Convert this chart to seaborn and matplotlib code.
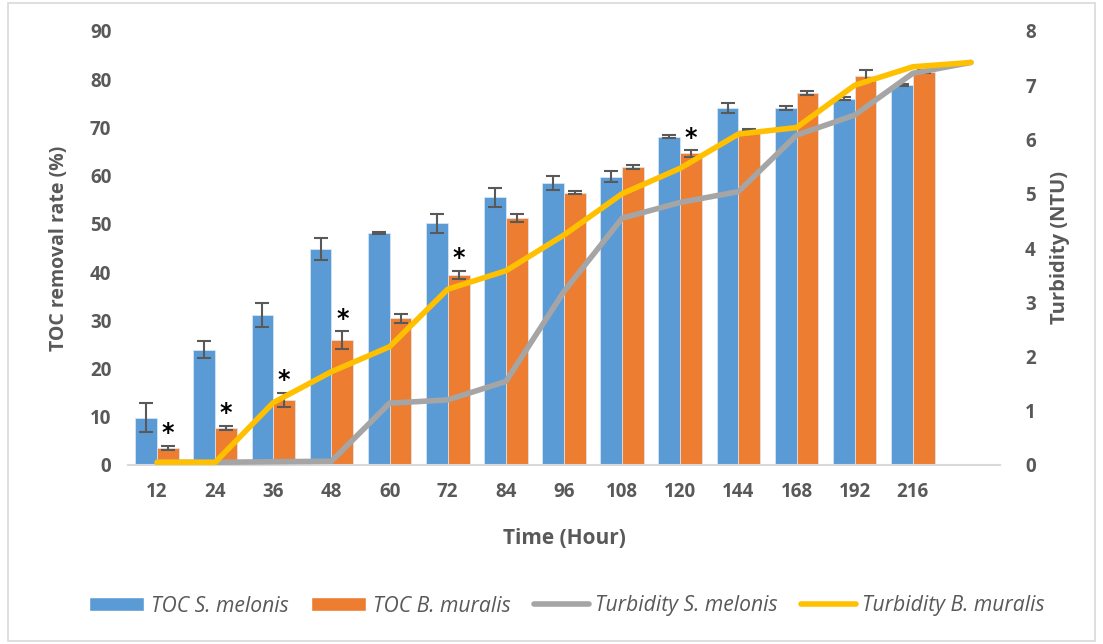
import numpy as np
import pandas as pd
import matplotlib
matplotlib.use("Agg")
import matplotlib.pyplot as plt
import seaborn as sns
from matplotlib.patches import Patch, Rectangle
from matplotlib.lines import Line2D

# ---- data ----
time_labels = ["12", "24", "36", "48", "60", "72", "84", "96", "108", "120", "144", "168", "192", "216"]
toc_melonis = [9.8, 23.9, 31.1, 44.8, 48.1, 50.1, 55.5, 58.5, 59.8, 68.1, 74.0, 74.1, 76.0, 78.8]
toc_melonis_err = [3.0, 1.8, 2.4, 2.3, 0.3, 2.0, 2.0, 1.5, 1.2, 0.3, 1.0, 0.4, 0.3, 0.3]
toc_muralis = [3.6, 7.7, 13.5, 25.9, 30.4, 39.4, 51.2, 56.5, 61.8, 64.6, 69.5, 77.1, 80.7, 81.6]
toc_muralis_err = [0.4, 0.4, 1.5, 1.8, 0.9, 0.9, 0.8, 0.3, 0.5, 0.7, 0.2, 0.4, 1.2, 0.3]
turb_melonis = [0.05, 0.05, 0.06, 0.07, 1.14, 1.20, 1.54, 3.20, 4.55, 4.84, 5.04, 6.08, 6.45, 7.22, 7.42]
turb_muralis = [0.05, 0.05, 1.15, 1.72, 2.18, 3.24, 3.58, 4.24, 5.00, 5.47, 6.10, 6.22, 7.00, 7.34, 7.42]
significant = [True, True, True, True, False, True, False, False, False, True, False, False, False, False]

series_names = ["TOC S. melonis", "TOC B. muralis", "Turbidity S. melonis", "Turbidity B. muralis"]

BLUE, ORANGE, GRAY, YELLOW = "#5B9BD5", "#ED7D31", "#A5A5A5", "#FFC000"
TXT = "#595959"

sns.set_theme(style="white")
plt.rcParams['font.family'] = ['Open Sans', 'DejaVu Sans']

df = pd.DataFrame({
    "time": time_labels * 2,
    "value": toc_melonis + toc_muralis,
    "series": [series_names[0]] * len(time_labels) + [series_names[1]] * len(time_labels),
})

fig = plt.figure(figsize=(11.03, 6.44), dpi=100)
ax = fig.add_axes([128 / 1103, 1 - 465 / 644, (1000 - 128) / 1103, (465 - 31) / 644])

sns.barplot(data=df, x="time", y="value", hue="series", order=time_labels,
            hue_order=series_names[:2], palette=[BLUE, ORANGE], width=0.75,
            errorbar=None, legend=False, ax=ax, saturation=1,
            edgecolor="#DCE9F5", linewidth=0.5)

n = len(time_labels)
patches = ax.patches
blue_p = patches[:n]
orange_p = patches[n:2 * n]
bx = [p.get_x() + p.get_width() / 2 for p in blue_p]
ox = [p.get_x() + p.get_width() / 2 for p in orange_p]
ax.errorbar(bx, toc_melonis, yerr=toc_melonis_err, fmt="none", ecolor=TXT,
            elinewidth=1.5, capsize=4.7, capthick=1.5, zorder=3)
ax.errorbar(ox, toc_muralis, yerr=toc_muralis_err, fmt="none", ecolor=TXT,
            elinewidth=1.5, capsize=4.7, capthick=1.5, zorder=3)
for i, s in enumerate(significant):
    if s:
        ax.annotate("*", (ox[i], toc_muralis[i] + toc_muralis_err[i]), xytext=(0, 9),
                    textcoords="offset points", ha="center", va="center",
                    fontsize=17, fontweight="bold", color="black",
                    family="DejaVu Sans")

ax.set_ylim(0, 90)
ax.set_yticks(np.arange(0, 91, 10))
ax.set_xlim(-0.5, 14.5)
ax.set_xlabel("Time (Hour)", fontsize=15, fontweight="bold", color=TXT, labelpad=19)
ax.set_ylabel("TOC removal rate (%)", fontsize=14, fontweight="bold", color=TXT, labelpad=15)
ax.tick_params(axis="both", length=0, labelsize=13.5, labelcolor=TXT, pad=12)
for lab in ax.get_xticklabels() + ax.get_yticklabels():
    lab.set_fontweight("bold")
for sp in ["left", "right", "top"]:
    ax.spines[sp].set_visible(False)
ax.spines["bottom"].set_color("#D9D9D9")
ax.spines["bottom"].set_linewidth(1.5)

ax2 = ax.twinx()
xs = np.arange(len(turb_melonis))
sns.lineplot(x=xs, y=turb_melonis, color=GRAY, lw=4, ax=ax2, solid_capstyle="round")
sns.lineplot(x=xs, y=turb_muralis, color=YELLOW, lw=4, ax=ax2, solid_capstyle="round")
ax2.set_ylim(0, 8)
ax2.set_xlim(-0.5, 14.5)
ax2.set_ylabel("Turbidity (NTU)", fontsize=14.5, fontweight="bold", color=TXT, labelpad=10)
ax2.tick_params(axis="y", length=0, labelsize=13.5, labelcolor=TXT, pad=18)
for lab in ax2.get_yticklabels():
    lab.set_fontweight("bold")
for sp in ax2.spines.values():
    sp.set_visible(False)

handles = [Patch(facecolor=BLUE), Patch(facecolor=ORANGE),
           Line2D([0], [0], color=GRAY, lw=4, solid_capstyle="round"),
           Line2D([0], [0], color=YELLOW, lw=4, solid_capstyle="round")]
leg = fig.legend(handles, series_names, loc="center", bbox_to_anchor=(0.514, 1 - 606 / 644),
                 ncol=4, frameon=False, handlelength=2.6, handleheight=0.65,
                 columnspacing=1.1, handletextpad=0.3,
                 prop={"style": "italic", "size": 15.2})
for t in leg.get_texts():
    t.set_color(TXT)

fig.add_artist(Rectangle((8 / 1103, 3 / 644), 1 - 16 / 1103, 1 - 6 / 644,
                         transform=fig.transFigure, fill=False,
                         edgecolor="#D9D9D9", lw=1.2))

fig.savefig("out.png", dpi=100)
